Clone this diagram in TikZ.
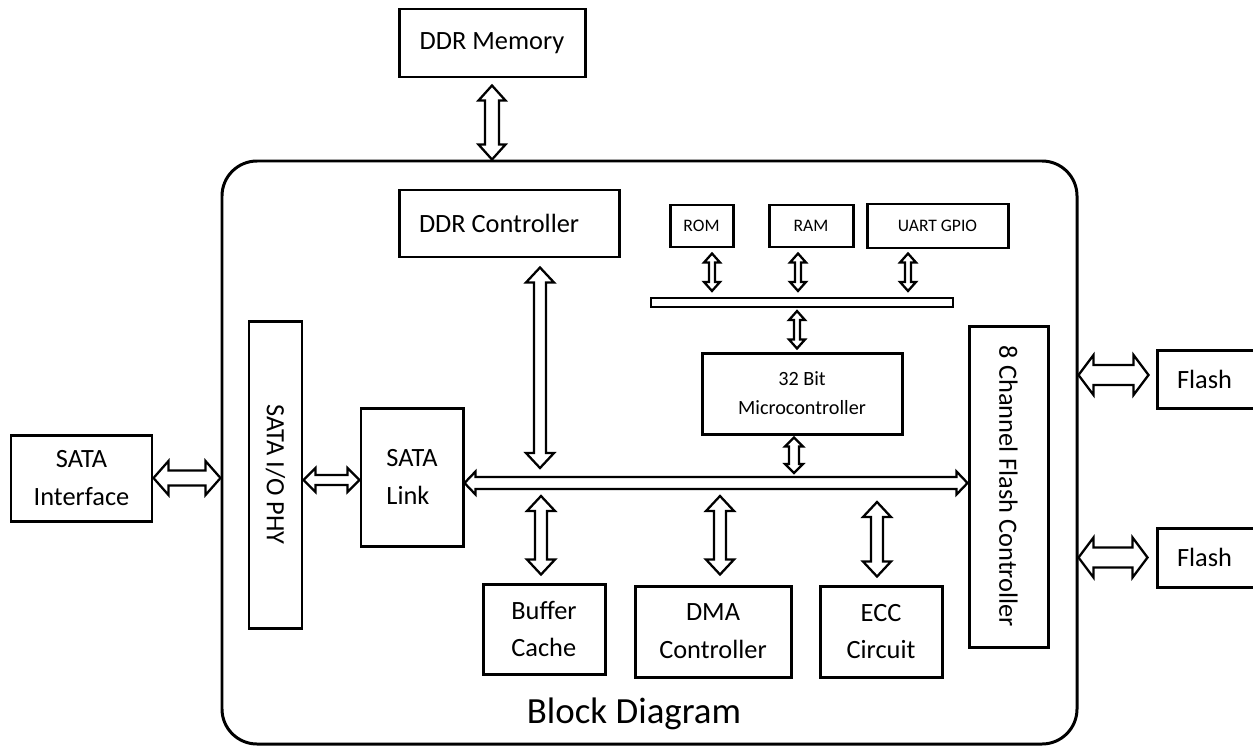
\documentclass[tikz,border=0pt]{standalone}
\usepackage{fontspec}
\setmainfont{Carlito}
\usepackage{graphicx}
\usepackage{tikz}
\usetikzlibrary{positioning, calc}

\newcommand{\px}{0.567pt}

\begin{document}
\begin{tikzpicture}[on grid,
		blk/.style={draw, line width=1.7pt, inner sep=0pt, align=center, font=\fontsize{15}{21.5}\selectfont},
		memblk/.style={blk, font=\fontsize{10}{12}\selectfont}]
				\useasboundingbox (0,0) rectangle (25.06,-14.92);
				\node[draw, line width=1.7pt, rounded corners=0.7cm, minimum width=17.1cm, minimum height=11.66cm] (soc) at (12.99,-9.05) {};
				\node[font=\fontsize{21}{24}\selectfont] (title) [below left=5.23cm and 0.31cm of soc] {Block Diagram};

				\node[blk, minimum width=4.4cm, minimum height=1.34cm] (ddrctl) [above left=4.58cm and 2.81cm of soc] {\makebox[3.6cm][l]{DDR Controller}};
				\node[blk, minimum width=3.72cm, minimum height=1.36cm] (ddrmem) [above left=3.61cm and 0.34cm of ddrctl] {DDR Memory};
				\node[memblk, minimum width=1.26cm, minimum height=0.84cm] (rom) [below right=0.05cm and 3.85cm of ddrctl] {ROM};
				\node[memblk, minimum width=1.68cm, minimum height=0.84cm] (ram) [right=2.19cm of rom] {RAM};
				\node[memblk, minimum width=2.82cm, minimum height=0.88cm] (uart) [right=2.53cm of ram] {UART GPIO};
				\node[draw, line width=1.2pt, inner sep=0pt, minimum width=6.04cm, minimum height=0.18cm] (mbus) [below left=1.53cm and 0.18cm of ram] {};
				\node[blk, font=\fontsize{11.5}{16.4}\selectfont, minimum width=4cm, minimum height=1.62cm] (mcu) [below=1.82cm of mbus] {32 Bit\\Microcontroller};

				\node[blk, minimum width=1.06cm, minimum height=6.14cm] (phy) [below left=0.44cm and 7.48cm of soc] {\rotatebox{-90}{SATA I/O PHY}};
				\node[blk, minimum width=2.82cm, minimum height=1.72cm] (satai) [below left=0.07cm and 3.88cm of phy] {SATA\\Interface};
				\node[blk, minimum width=2.04cm, minimum height=2.76cm, align=left] (link) [below right=0.05cm and 2.73cm of phy] {SATA\\Link};
				\node[blk, minimum width=1.58cm, minimum height=6.42cm] (fctl) [below right=0.68cm and 7.18cm of soc] {\rotatebox{-90}{8 Channel Flash Controller}};
				\node[blk, minimum width=2.1cm, minimum height=1.16cm] (flasha) [above right=2.15cm and 4.02cm of fctl] {\makebox[1.3cm][l]{Flash}};
				\node[blk, minimum width=2.1cm, minimum height=1.18cm] (flashb) [below=3.57cm of flasha] {\makebox[1.3cm][l]{Flash}};

				\node[blk, minimum width=3.12cm, minimum height=1.82cm] (dma) [below right=3.58cm and 1.27cm of soc] {DMA\\Controller};
				\node[blk, minimum width=2.44cm, minimum height=1.8cm, align=left] (buf) [above left=0.05cm and 3.38cm of dma] {Buffer\\Cache};
				\node[blk, minimum width=2.44cm, minimum height=1.82cm] (ecc) [right=3.36cm of dma] {ECC\\Circuit};

				\tikzset{dblarrow/.style args={#1/#2/#3}{draw, fill=white, line width=1.3pt, line join=miter,
					to path={let \p1=(\tikztostart), \p2=(\tikztotarget),
						\n1={atan2(\y2-\y1,\x2-\x1)}, \n2={veclen(\x2-\x1,\y2-\y1)} in
						-- ($(\p1)+(\n1:{#3*\px})+(\n1+90:{#2*\px})$)
						-- ($(\p1)+(\n1:{#3*\px})+(\n1+90:{#1*\px})$)
						-- ($(\p1)+(\n1:{\n2-#3*\px})+(\n1+90:{#1*\px})$)
						-- ($(\p1)+(\n1:{\n2-#3*\px})+(\n1+90:{#2*\px})$)
						-- (\p2)
						-- ($(\p1)+(\n1:{\n2-#3*\px})+(\n1-90:{#2*\px})$)
						-- ($(\p1)+(\n1:{\n2-#3*\px})+(\n1-90:{#1*\px})$)
						-- ($(\p1)+(\n1:{#3*\px})+(\n1-90:{#1*\px})$)
						-- ($(\p1)+(\n1:{#3*\px})+(\n1-90:{#2*\px})$)
						-- cycle}}}
				\coordinate (busw) at ($(link.east)+(0,-0.12)$);
				\path (busw) edge [dblarrow=6/11.5/11] (fctl.west |- busw);
				\path ($(ddrmem.south)+(0,-0.14)$) edge [dblarrow=7/13.5/15] (ddrmem.south |- soc.north);
				\path ($(ddrctl.south)+(0.62,-0.18)$) edge [dblarrow=6/14/15] ($(ddrctl.south |- busw)+(0.62,0.3)$);
				\path ($(rom.south)+(0.21,-0.1)$) edge [dblarrow=3/8/9] ($(rom.south |- mbus.north)+(0.21,0.12)$);
				\path ($(ram.south)+(-0.26,-0.1)$) edge [dblarrow=3/8/9] ($(ram.south |- mbus.north)+(-0.26,0.12)$);
				\path ($(uart.south)+(-0.59,-0.08)$) edge [dblarrow=3/8/9] ($(uart.south |- mbus.north)+(-0.59,0.12)$);
				\path ($(mbus.south)+(-0.1,-0.06)$) edge [dblarrow=3/8/9] ($(mbus.south |- mcu.north)+(-0.1,0.06)$);
				\path ($(mcu.south)+(-0.16,-0.04)$) edge [dblarrow=5/9/9] ($(mcu.south |- busw)+(-0.16,0.2)$);
				\path (satai.east) edge [dblarrow=7.5/17/15] (satai.east -| soc.west);
				\path ($(link.west -| phy.east)+(0,-0.06)$) edge [dblarrow=5/12/12] ($(link.west)+(0,-0.06)$);
				\path ($(buf.north)+(-0.06,0.16)$) edge [dblarrow=6/14/15] ($(buf.north |- busw)+(-0.06,-0.26)$);
				\path ($(dma.north)+(0.14,0.2)$) edge [dblarrow=6/14/15] ($(dma.north |- busw)+(0.14,-0.26)$);
				\path ($(ecc.north)+(-0.08,0.16)$) edge [dblarrow=6/14/15] ($(ecc.north |- busw)+(-0.08,-0.38)$);
				\path ($(flasha.west -| soc.east)+(0,0.08)$) edge [dblarrow=10/20/15] ($(flasha.west)+(-0.14,0.08)$);
				\path (flashb.west -| soc.east) edge [dblarrow=10/20/15] ($(flashb.west)+(-0.16,0)$);
			\end{tikzpicture}
\end{document}
